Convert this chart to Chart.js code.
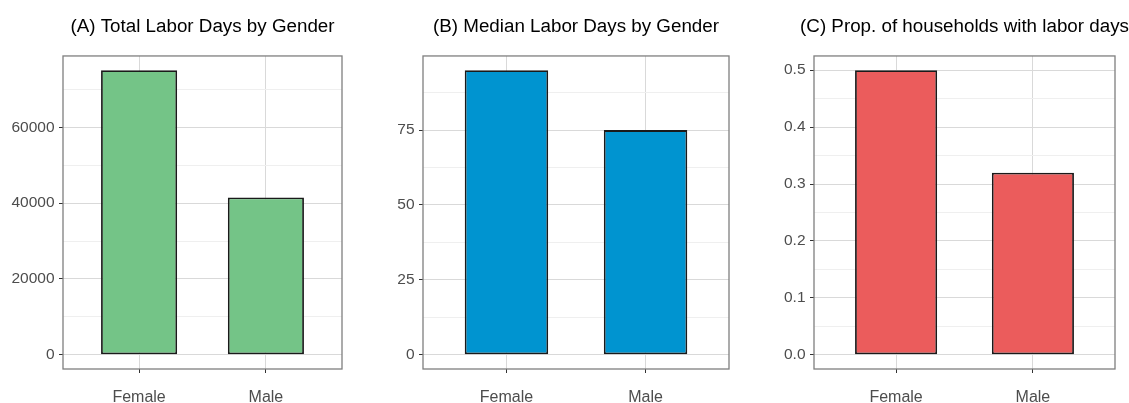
<!DOCTYPE html>
<html>
<head>
<meta charset="utf-8">
<title>Labor days by gender</title>
<script src="https://cdn.jsdelivr.net/npm/chart.js@4/dist/chart.umd.min.js"></script>
<style>
  html, body { margin: 0; padding: 0; background: #fff; }
  #wrap { position: relative; width: 1129px; height: 403px; overflow: hidden; }
  canvas { position: absolute; top: 0; }
</style>
</head>
<body>
<div id="wrap">
  <canvas id="chartTotal" width="376" height="403" style="left:0px"></canvas>
  <canvas id="chartMedian" width="376" height="403" style="left:376px"></canvas>
  <canvas id="chartProp" width="377" height="403" style="left:752px"></canvas>
</div>
<script>
const genders = ["Female", "Male"];

const totalDays = [75100, 41500];
const medianDays = [95, 75];
const propHouseholds = [0.5, 0.32];

const totalTicks = [0, 20000, 40000, 60000];
const totalMinor = [10000, 30000, 50000, 70000];
const medianTicks = [0, 25, 50, 75];
const medianMinor = [12.5, 37.5, 62.5, 87.5];
const propTicks = [0, 0.1, 0.2, 0.3, 0.4, 0.5];
const propMinor = [0.05, 0.15, 0.25, 0.35, 0.45];
const propLabels = ["0.0", "0.1", "0.2", "0.3", "0.4", "0.5"];

Chart.defaults.font.family = "'Liberation Sans', Arial, sans-serif";
Chart.defaults.devicePixelRatio = 1;

// grey frame around the plotting area
const panelBorder = {
  id: "panelBorder",
  afterLayout(chart) {
    // title stays centred over the panel but may run wider than it
    const title = chart.titleBlock;
    const mid = (chart.chartArea.left + chart.chartArea.right) / 2;
    title.left = mid - chart.width / 2;
    title.right = mid + chart.width / 2;
    title.width = chart.width;
  },
  afterDraw(chart) {
    const { ctx, chartArea } = chart;
    ctx.save();
    ctx.strokeStyle = "#7f7f7f";
    ctx.lineWidth = 1.3;
    ctx.strokeRect(chartArea.left, chartArea.top, chartArea.right - chartArea.left, chartArea.bottom - chartArea.top);
    ctx.restore();
  },
};

const createPanel = (id, title, values, color, major, minor, labels, yWidth, padRight) => {
  const top = Math.max(...values);
  const majorSet = new Set(major);

  new Chart(document.getElementById(id), {
    type: "bar",
    data: {
      datasets: [
        {
          data: values.map((v, i) => ({ x: i + 1, y: v })),
          backgroundColor: color,
          borderColor: "#1a1a1a",
          borderWidth: 1.8,
          borderSkipped: false,
          barPercentage: 0.6,
          categoryPercentage: 1,
        },
      ],
    },
    options: {
      responsive: false,
      animation: false,
      layout: { padding: { left: 0, right: padRight, top: 0, bottom: 0 } },
      plugins: {
        legend: { display: false },
        tooltip: { enabled: false },
        title: {
          display: true,
          text: title,
          fullSize: false,
          color: "#000",
          font: { size: 18.8, weight: "normal", lineHeight: 1.2 },
          padding: { top: 15.5, bottom: 17.9 },
        },
      },
      scales: {
        x: {
          type: "linear",
          offset: false,
          min: 0.4, // discrete axis padding, same as ggplot
          max: 2.6,
          afterBuildTicks: (scale) => {
            scale.ticks = genders.map((g, i) => ({ value: i + 1 }));
          },
          afterFit: (scale) => {
            scale.height = 34;
          },
          border: { display: false },
          grid: {
            offset: false,
            color: "#d9d9d9",
            lineWidth: 1,
            tickColor: "#333333",
            tickLength: 4,
          },
          ticks: {
            autoSkip: false,
            maxRotation: 0,
            padding: 15,
            color: "#4d4d4d",
            font: { size: 16 },
            callback: (value) => genders[Math.round(value) - 1],
          },
        },
        y: {
          min: -0.05 * top,
          max: 1.05 * top,
          afterBuildTicks: (scale) => {
            scale.ticks = [...major, ...minor].sort((a, b) => a - b).map((v) => ({ value: v }));
          },
          afterFit: (scale) => {
            scale.width = yWidth;
          },
          border: { display: false },
          grid: {
            color: (ctx) => (majorSet.has(ctx.tick.value) ? "#d9d9d9" : "#efefef"),
            lineWidth: 1,
            tickColor: (ctx) => (majorSet.has(ctx.tick.value) ? "#333333" : "rgba(0,0,0,0)"),
            tickLength: 4,
          },
          ticks: {
            autoSkip: false,
            padding: 4.5,
            color: "#4d4d4d",
            font: { size: 15.5 },
            callback: (value) => {
              const i = major.indexOf(value);
              return i < 0 ? "" : labels[i];
            },
          },
        },
      },
    },
    plugins: [panelBorder],
  });
};

createPanel("chartTotal", "(A) Total Labor Days by Gender", totalDays, "#74c487",
  totalTicks, totalMinor, totalTicks.map(String), 63, 34);
createPanel("chartMedian", "(B) Median Labor Days by Gender", medianDays, "#0094d0",
  medianTicks, medianMinor, medianTicks.map(String), 47, 23);
createPanel("chartProp", "(C) Prop. of households with labor days", propHouseholds, "#eb5c5c",
  propTicks, propMinor, propLabels, 62, 14);
</script>
</body>
</html>
